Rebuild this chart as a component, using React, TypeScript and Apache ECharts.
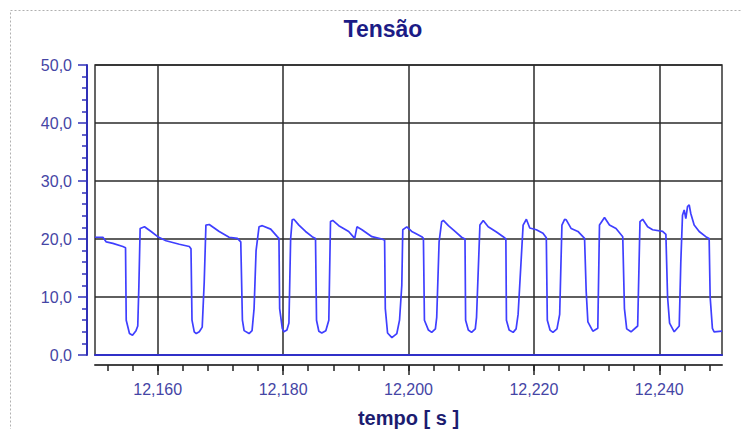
import React, { useEffect, useRef } from "react";
import * as echarts from "echarts";

const TITLE = "Tensão";
const X_NAME = "tempo [ s ]";
const X_MIN = 12150;
const X_MAX = 12250;
const X_MAJOR_TICKS = [12160, 12180, 12200, 12220, 12240];
const Y_MIN = 0;
const Y_MAX = 50;
const Y_INTERVAL = 10;

// time in ms
const timeMs = [
  12150.0, 12151.26, 12151.8, 12152.85, 12154.44, 12154.87, 12154.98, 12155.5, 12155.98, 12156.54,
  12156.82, 12157.0, 12157.2, 12157.89, 12158.95, 12160.0, 12161.33, 12163.45, 12165.04, 12165.31,
  12165.47, 12165.83, 12166.15, 12166.63, 12167.1, 12167.42, 12167.69, 12168.22, 12169.81, 12171.39,
  12172.71, 12173.25, 12173.51, 12173.78, 12174.57, 12175.05, 12175.37, 12175.69, 12176.16, 12176.69,
  12178.02, 12179.07, 12179.34, 12179.45, 12179.87, 12180.13, 12180.61, 12180.93, 12181.2, 12181.45,
  12181.72, 12182.52, 12183.58, 12184.63, 12185.17, 12185.33, 12185.7, 12186.17, 12186.81, 12187.29,
  12187.56, 12187.92, 12188.88, 12190.46, 12191.42, 12191.78, 12192.58, 12194.17, 12195.76, 12196.19,
  12196.3, 12196.66, 12197.35, 12198.14, 12198.57, 12198.93, 12199.09, 12199.73, 12200.52, 12201.07,
  12202.11, 12202.38, 12202.54, 12203.18, 12203.7, 12204.29, 12204.5, 12204.88, 12205.29, 12205.56,
  12206.36, 12207.42, 12208.47, 12209.01, 12209.11, 12209.54, 12210.06, 12210.65, 12210.85, 12211.39,
  12211.92, 12212.71, 12214.03, 12215.1, 12215.53, 12215.62, 12216.05, 12216.69, 12217.16, 12217.48,
  12218.28, 12218.8, 12219.34, 12220.39, 12221.45, 12221.98, 12222.14, 12222.57, 12223.04, 12223.68,
  12224.11, 12224.47, 12224.9, 12225.16, 12225.95, 12227.02, 12228.08, 12228.34, 12228.61, 12229.4,
  12230.19, 12230.46, 12231.26, 12232.05, 12233.1, 12234.17, 12234.44, 12234.8, 12235.49, 12236.55,
  12236.92, 12237.35, 12238.14, 12238.93, 12240.53, 12241.05, 12241.32, 12241.64, 12242.38, 12243.18,
  12243.43, 12243.7, 12243.97, 12244.23, 12244.5, 12244.77, 12245.02, 12245.56, 12246.36, 12247.41,
  12247.95, 12248.11, 12248.47, 12248.74, 12250.0,
];

// voltage in V
const voltage = [
  20.3, 20.3, 19.5, 19.25, 18.7, 18.5, 6.0, 3.7, 3.4, 4.2,
  5.0, 12.0, 21.8, 22.1, 21.3, 20.4, 19.7, 19.1, 18.7, 18.3,
  6.0, 4.0, 3.7, 4.0, 4.8, 12.6, 22.4, 22.5, 21.3, 20.3,
  20.1, 19.5, 6.0, 4.2, 3.7, 4.2, 8.0, 18.0, 22.1, 22.3,
  21.7, 20.4, 20.1, 8.0, 4.6, 4.0, 4.3, 5.5, 20.0, 23.3,
  23.4, 22.4, 21.3, 20.4, 20.1, 6.0, 4.1, 3.8, 4.2, 6.0,
  23.0, 23.2, 22.3, 21.3, 20.1, 22.1, 21.6, 20.4, 20.0, 19.8,
  8.0, 3.8, 3.0, 3.7, 6.0, 12.0, 21.6, 22.1, 21.3, 21.0,
  20.4, 20.1, 6.0, 4.3, 3.9, 4.5, 6.5, 19.5, 23.0, 23.2,
  22.3, 21.3, 20.3, 20.0, 6.0, 4.3, 3.9, 4.5, 6.5, 22.4,
  23.2, 22.1, 21.2, 20.4, 20.0, 6.0, 4.3, 3.9, 4.5, 7.0,
  22.4, 23.4, 21.9, 21.6, 21.0, 20.2, 6.0, 4.3, 3.9, 4.5,
  7.0, 22.4, 23.4, 23.3, 21.8, 21.3, 20.1, 11.0, 5.7, 4.1,
  4.6, 22.4, 23.7, 22.4, 21.8, 20.4, 8.0, 4.5, 4.0, 5.0,
  23.0, 23.4, 22.1, 21.6, 21.3, 20.8, 10.0, 5.5, 4.0, 5.0,
  16.0, 24.1, 25.0, 23.5, 25.6, 25.9, 24.4, 22.4, 21.3, 20.4,
  20.1, 10.0, 4.6, 4.0, 4.1,
];

const FONT = "'Liberation Sans', Arial, Helvetica, sans-serif";

export default function App() {
  const ref = useRef<HTMLDivElement>(null);

  useEffect(() => {
    if (!ref.current) return;
    const chart = echarts.init(ref.current, null, { renderer: "svg" });

    const minorTicks: number[] = [];
    for (let v = X_MIN + 2; v < X_MAX; v += 4) minorTicks.push(v);

    const data = timeMs.map((t, i) => [t, voltage[i]]);
    const xFmt = (v: number) => (v / 1000).toFixed(3).replace(".", ",");
    const gridColor = "#2a2a2a";

    chart.setOption({
      animation: false,
      backgroundColor: "#ffffff",
      graphic: [
        {
          type: "rect",
          shape: { x: 10.5, y: 10.5, width: 900, height: 600 },
          style: { fill: "none", stroke: "#b0b0b0", lineWidth: 1, lineDash: [2, 2] },
          z: -1,
        },
        {
          type: "text",
          x: 383,
          y: 29,
          style: {
            text: TITLE,
            font: `bold 23px ${FONT}`,
            fill: "#1c1c86",
            align: "center",
            verticalAlign: "middle",
          },
        },
      ],
      grid: {
        left: 95,
        width: 627,
        top: 65,
        height: 290,
        show: true,
        borderColor: "#333",
        borderWidth: 1.5,
        containLabel: false,
        outerBoundsMode: "none",
      },
      xAxis: [
        {
          type: "value",
          position: "bottom",
          min: X_MIN,
          max: X_MAX,
          axisLine: { show: true, onZero: false, lineStyle: { color: "#3030c8", width: 2 } },
          axisTick: { show: false, customValues: X_MAJOR_TICKS },
          axisLabel: { show: false, customValues: X_MAJOR_TICKS },
          splitLine: { show: true, lineStyle: { color: gridColor, width: 1.5 } },
          minorTick: { show: false },
        },
        {
          type: "value",
          position: "bottom",
          offset: 10,
          min: X_MIN,
          max: X_MAX,
          axisLine: { show: true, onZero: false, lineStyle: { color: "#444", width: 2 } },
          axisTick: {
            show: true,
            customValues: X_MAJOR_TICKS,
            length: 10,
            lineStyle: { color: "#222", width: 1.5 },
          },
          axisLabel: {
            show: true,
            customValues: X_MAJOR_TICKS,
            formatter: xFmt,
            margin: 16,
            fontSize: 16,
            fontFamily: FONT,
            color: "#4545a5",
          },
          splitLine: { show: false },
          name: X_NAME,
          nameLocation: "middle",
          nameGap: 43,
          nameTextStyle: { fontSize: 20, fontWeight: "bold", fontFamily: FONT, color: "#1c1c70" },
        },
        {
          type: "value",
          position: "bottom",
          offset: 10,
          min: X_MIN,
          max: X_MAX,
          axisLine: { show: false, onZero: false },
          axisTick: {
            show: true,
            customValues: minorTicks,
            length: 6,
            lineStyle: { color: "#222", width: 1.5 },
          },
          axisLabel: { show: false },
          splitLine: { show: false },
        },
      ],
      yAxis: {
        type: "value",
        min: Y_MIN,
        max: Y_MAX,
        interval: Y_INTERVAL,
        offset: 8,
        axisLine: { show: true, onZero: false, lineStyle: { color: "#3030b8", width: 2 } },
        axisTick: { show: true, length: 9, lineStyle: { color: "#3030b8", width: 1.5 } },
        minorTick: { show: true, splitNumber: 5, length: 5, lineStyle: { color: "#3030b8", width: 1.5 } },
        axisLabel: {
          formatter: (v: number) => v.toFixed(1).replace(".", ","),
          margin: 15,
          fontSize: 16,
          fontFamily: FONT,
          color: "#4545a5",
        },
        splitLine: { show: true, lineStyle: { color: gridColor, width: 1.5 } },
      },
      series: [
        {
          type: "line",
          xAxisIndex: 0,
          data,
          showSymbol: false,
          symbol: "none",
          lineStyle: { color: "#3f3fff", width: 1.7 },
          clip: true,
        },
      ],
    });

    return () => chart.dispose();
  }, []);

  return (
    <div
      ref={ref}
      style={{ position: "fixed", left: 0, top: 0, width: 741, height: 429, background: "#fff" }}
    />
  );
}
